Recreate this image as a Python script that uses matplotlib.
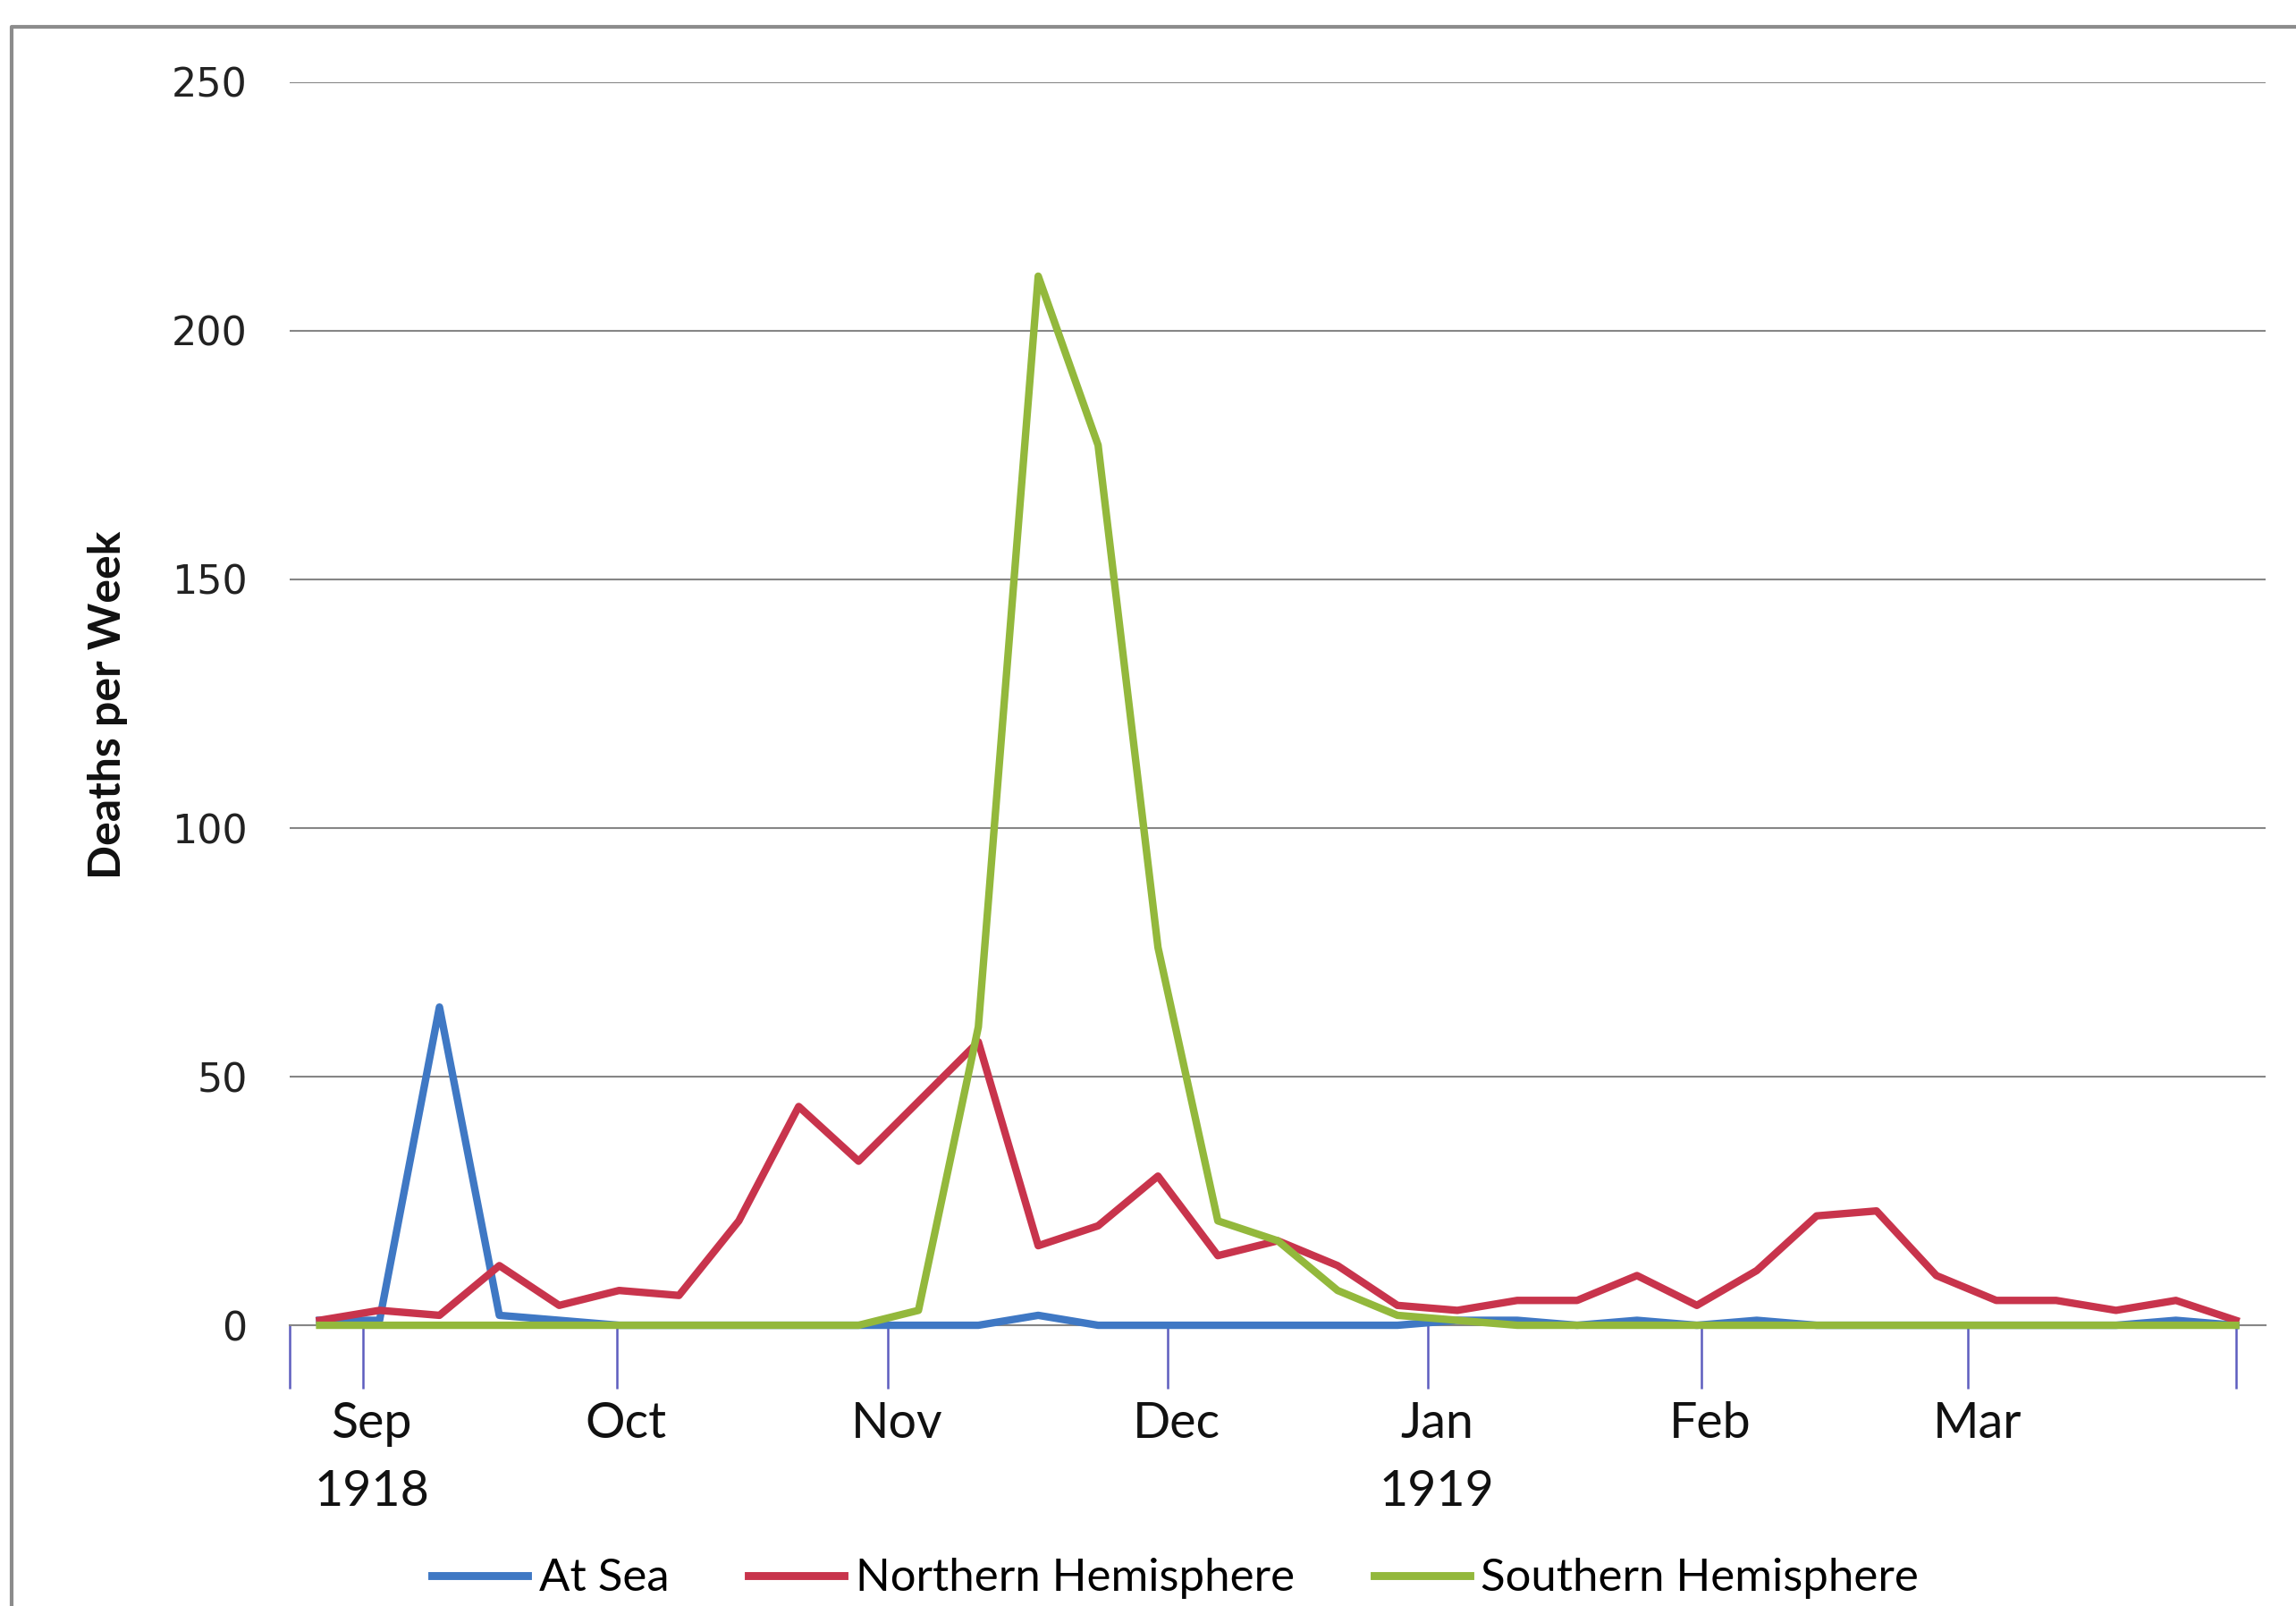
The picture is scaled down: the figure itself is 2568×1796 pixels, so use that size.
import matplotlib
matplotlib.use('Agg')
import matplotlib.pyplot as plt
from matplotlib.lines import Line2D
from matplotlib.transforms import ScaledTranslation

# ---- data (weekly, Aug 1918 - Mar 1919) ----
weeks = list(range(33))
at_sea = [1, 1, 64, 2, 1, 0, 0, 0, 0, 0, 0, 0, 2, 0, 0, 0, 0, 0, 0, 1,
          1, 0, 1, 0, 1, 0, 0, 0, 0, 0, 0, 1, 0]
northern = [1, 3, 2, 12, 4, 7, 6, 21, 44, 33, 45, 57, 16, 20, 30, 14, 17, 12, 4, 3,
            5, 5, 10, 4, 11, 22, 23, 10, 5, 5, 3, 5, 1]
southern = [0, 0, 0, 0, 0, 0, 0, 0, 0, 0, 3, 60, 211, 177, 76, 21, 17, 7, 2, 1,
            0, 0, 0, 0, 0, 0, 0, 0, 0, 0, 0, 0, 0]
series_names = ['At Sea', 'Northern Hemisphere', 'Southern Hemisphere']

# month boundaries expressed on the week scale
month_tick_pos = [-0.5, 0.72, 4.96, 9.49, 14.16, 18.51, 23.08, 27.53, 32.0]
month_tick_labels = ['', 'Sep\n1918', 'Oct', 'Nov', 'Dec', 'Jan\n1919', 'Feb', 'Mar', '']
y_ticks = [0, 50, 100, 150, 200, 250]

colors = ['#3f78c4', '#c8344c', '#93b83c']

fig = plt.figure(figsize=(12.84, 8.98), dpi=200)
ax = fig.add_axes([0.1262, 0.1748, 0.9868 - 0.1262, 0.9488 - 0.1748])

for vals, c, name in zip([at_sea, northern, southern], colors, series_names):
    ax.plot(weeks, vals, color=c, lw=3.0, label=name, clip_on=False, zorder=3,
            solid_joinstyle='round')

ax.set_xlim(-0.5, 32.5)
ax.set_ylim(0, 250)
ax.set_yticks(y_ticks)
ax.yaxis.grid(True, color='#868686', lw=0.75)
ax.set_axisbelow(True)
for s in ['top', 'right', 'left']:
    ax.spines[s].set_visible(False)
ax.spines['bottom'].set_color('#868686')
ax.spines['bottom'].set_linewidth(0.75)

ax.tick_params(axis='y', length=0, pad=17, labelsize=16, labelcolor='#222222')
for lab in ax.get_yticklabels():
    lab.set_family('DejaVu Sans')

ax.set_xticks(month_tick_pos)
ax.set_xticklabels(month_tick_labels, family='Lato', fontsize=20, color='#111111',
                   linespacing=1.62)
ax.tick_params(axis='x', direction='out', length=25.5, width=0.9, color='#5d5dbf', pad=5)
shift = ScaledTranslation(0.05, 0, fig.dpi_scale_trans)
for lab in ax.get_xticklabels():
    lab.set_transform(lab.get_transform() + shift)

fig.text(0.0470, 0.561, 'Deaths per Week', rotation=90, fontweight='bold',
         fontsize=18, family='Lato', ha='center', va='center', color='#111111')

handles = [Line2D([], [], color=c, lw=3.2) for c in colors]
fig.legend(handles, series_names, loc='center', bbox_to_anchor=(0.512, 0.017),
           ncol=3, frameon=False, handlelength=2.1, handletextpad=0.25,
           columnspacing=1.75, prop={'family': 'Lato', 'size': 18.3})

# chart frame (cut at right/bottom in the original)
x0 = 13 / 2568
ytop = 1 - 30 / 1796
fig.add_artist(Line2D([x0, x0, 1.0], [0, ytop, ytop], transform=fig.transFigure,
                      color='#8c8c8c', lw=1.5))

fig.savefig('out.png', dpi=200, facecolor='white')
